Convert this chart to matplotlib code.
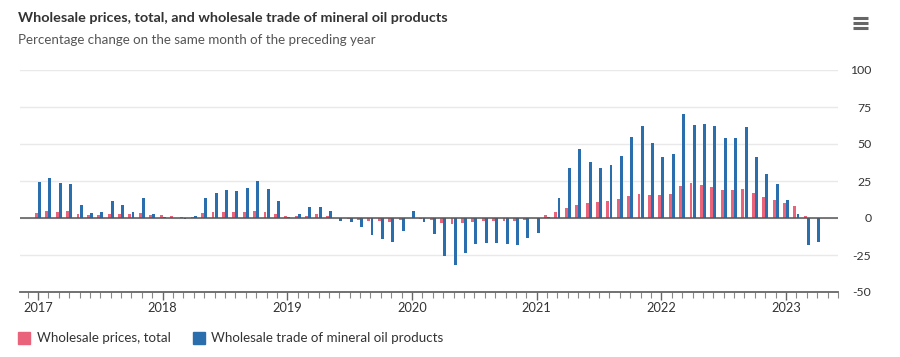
import numpy as np
import matplotlib
matplotlib.use("Agg")
import matplotlib.pyplot as plt
from matplotlib.lines import Line2D
from matplotlib.patches import Rectangle

# monthly values, Jan 2017 .. Apr 2023 (% change on same month of previous year)
prices_total = [3.6, 4.7, 4.3, 4.7, 2.9, 2.0, 2.3, 2.9, 2.9, 2.9, 3.6, 1.8,
                1.8, 1.4, 1.0, 1.0, 3.4, 4.0, 4.0, 4.0, 4.0, 4.7, 4.0, 2.7,
                1.4, 1.4, 1.4, 2.5, 1.6, 0.0, -0.5, -1.4, -2.3, -2.3, -2.5, -1.4,
                0.3, -0.5, -1.6, -3.4, -4.0, -3.4, -2.7, -2.3, -2.3, -2.3, -2.3, -1.6,
                0.0, 1.8, 3.8, 6.5, 9.0, 10.4, 11.0, 11.7, 13.0, 14.9, 16.2, 15.5,
                15.5, 16.2, 21.8, 23.4, 22.5, 20.7, 18.9, 18.9, 19.6, 16.9, 14.4, 12.4,
                10.4, 8.3, 1.4, 0.0]
mineral_oil = [24.3, 27.3, 23.9, 23.0, 8.6, 3.6, 4.3, 11.3, 8.8, 4.3, 13.3, 2.9,
               1.0, 0.2, -0.5, 1.5, 13.7, 17.0, 19.0, 18.0, 20.0, 24.8, 19.8, 11.3,
               0.5, 2.9, 7.2, 7.2, 4.7, -2.3, -2.9, -6.0, -11.3, -14.0, -16.0, -8.8,
               4.5, -2.7, -10.6, -25.7, -32.0, -23.4, -17.8, -16.9, -17.0, -17.6, -18.2, -13.7,
               -9.9, 0.8, 13.8, 33.8, 46.8, 37.8, 33.8, 35.8, 42.0, 54.5, 62.4, 50.7,
               41.4, 43.5, 70.3, 63.0, 63.7, 62.4, 53.8, 53.8, 61.7, 41.4, 30.0, 22.7,
               12.4, 2.7, -18.0, -16.2]
years = ["2017", "2018", "2019", "2020", "2021", "2022", "2023"]
y_ticks = [-50, -25, 0, 25, 50, 75, 100]

pink = "#e9647b"
blue = "#2b6ead"
font = "Lato"

plt.rcParams["font.family"] = [font, "DejaVu Sans"]

fig = plt.figure(figsize=(9, 3.57), dpi=100)
W, H = 900, 357
ax = fig.add_axes([20 / W, 1 - 292 / H, 818 / W, 222 / H])

x = np.arange(len(mineral_oil))
bw = 0.28
ax.bar(x - 0.15, prices_total, bw, color=pink, linewidth=0, zorder=3)
ax.bar(x + 0.15, mineral_oil, bw, color=blue, linewidth=0, zorder=3)

ax.set_xlim(-1.73, 76.9)
ax.set_ylim(-50, 100)

# y axis on the right
ax.yaxis.tick_right()
ax.set_yticks(y_ticks)
ax.set_yticklabels([str(v) for v in y_ticks], ha="right")
ax.tick_params(axis="y", length=0, pad=24, labelsize=8.8, labelcolor="#333333")
for v in y_ticks[1:]:
    ax.axhline(v, color="#e9e9e9", linewidth=1, zorder=1)
ax.axhline(0, color="#555555", linewidth=1.1, zorder=4)

# x axis: year ticks + monthly minor ticks
ax.set_xticks(np.arange(len(years)) * 12)
ax.set_xticklabels(years)
ax.set_xticks(np.arange(-1, 78), minor=True)
ax.tick_params(axis="x", which="major", length=6, width=1, color="#666666",
               labelsize=9.2, labelcolor="#333333", pad=1)
ax.tick_params(axis="x", which="minor", length=4, width=0.8, color="#888888")

for s in ["top", "right", "left"]:
    ax.spines[s].set_visible(False)
ax.spines["bottom"].set_color("#666666")
ax.spines["bottom"].set_linewidth(1.3)

# titles
fig.text(18 / W, 1 - 18 / H, "Wholesale prices, total, and wholesale trade of mineral oil products",
         fontsize=10.4, fontweight="bold", color="#333333", va="center", ha="left")
fig.text(18 / W, 1 - 40 / H, "Percentage change on the same month of the preceding year",
         fontsize=9.6, color="#555555", va="center", ha="left")

# menu icon
for yy in (18, 23, 28):
    fig.add_artist(Line2D([853 / W, 868 / W], [1 - yy / H, 1 - yy / H],
                          color="#666666", linewidth=2.2, solid_capstyle="butt"))

# legend
fig.add_artist(Rectangle((18 / W, 1 - 344 / H), 12 / W, 12 / H, color=pink,
                         transform=fig.transFigure))
fig.text(37 / W, 1 - 338 / H, "Wholesale prices, total", fontsize=9.6,
         color="#333333", va="center", ha="left")
fig.add_artist(Rectangle((193 / W, 1 - 344 / H), 12 / W, 12 / H, color=blue,
                         transform=fig.transFigure))
fig.text(211 / W, 1 - 338 / H, "Wholesale trade of mineral oil products", fontsize=9.6,
         color="#333333", va="center", ha="left")

fig.savefig("out.png", dpi=100)
